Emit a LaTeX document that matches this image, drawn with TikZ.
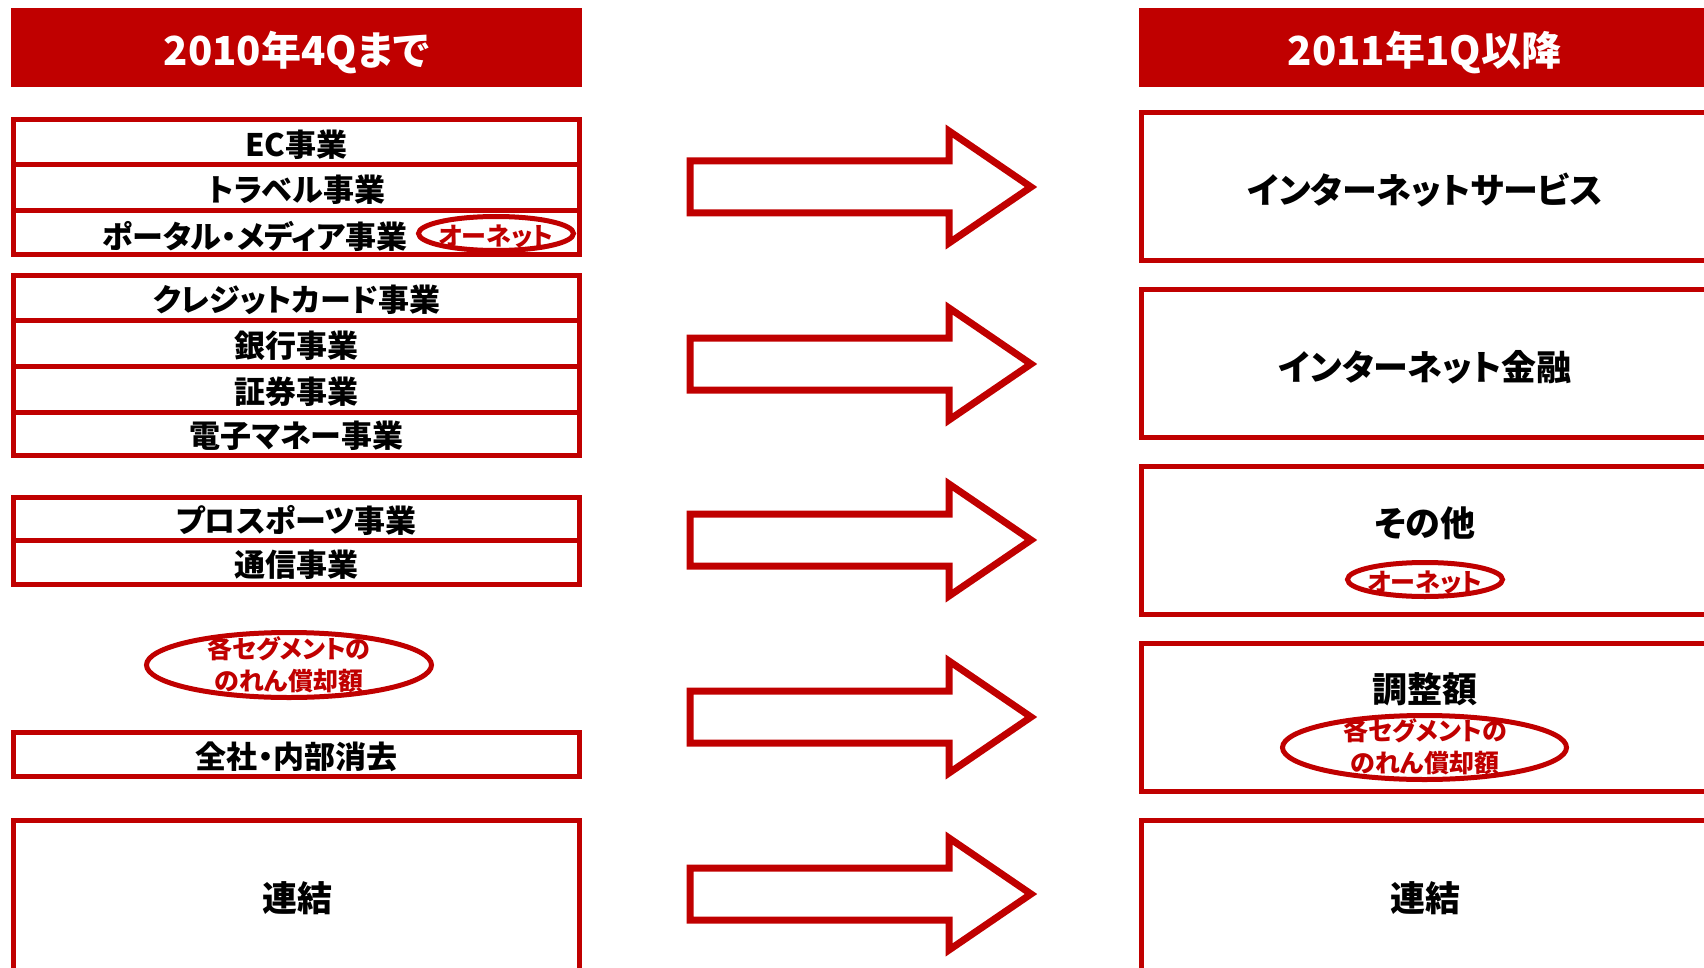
\documentclass[tikz,border=0pt]{standalone}
\usepackage{fontspec}
\setmainfont{Noto Sans CJK JP}[RawFeature=+palt]
\usetikzlibrary{shapes.geometric}
\definecolor{dred}{RGB}{192,0,0}
\tikzset{
  hdr/.style={fill=dred, draw=none, minimum width=571pt, minimum height=79pt, inner sep=0pt, text=white, text height=37pt, text depth=1.2pt, font=\fontsize{40}{48}\selectfont\bfseries},
  rowbox/.style={draw=dred, line width=5pt, fill=white, minimum width=566pt, inner sep=0pt, text height=30pt, text depth=2pt, font=\fontsize{31}{36}\selectfont\bfseries},
  rbox/.style={draw=dred, line width=5pt, minimum width=566pt, minimum height=148pt, inner sep=0pt},
  btxt/.style={inner sep=0pt, font=\fontsize{35}{42}\selectfont\bfseries},
  ltxt/.style={inner sep=0pt, text height=30pt, text depth=2pt, font=\fontsize{31}{36}\selectfont\bfseries},
  oval/.style={ellipse, draw=dred, line width=5pt, inner sep=0pt},
  redtxt/.style={text=dred, font=\fontsize{25}{32}\selectfont\bfseries, align=center, inner sep=0pt},
  fatarrow/.pic={\draw[dred, line width=7pt, line join=miter] (-341,-26) -- (-82,-26) -- (-82,-56) -- (0,0) -- (-82,56) -- (-82,26) -- (-341,26) -- cycle;}
}
\begin{document}
\begin{tikzpicture}[x=1pt,y=-1pt]
\useasboundingbox (0,0) rectangle (1704,968);
\clip (0,0) rectangle (1704,968);
% headers
\node[hdr] (hl) at (296.5,47.5) {2010年4Qまで};
\node[hdr] (hr) at (1424.5,47.5) {2011年1Q以降};
% left group 1
\node[rowbox, minimum height=45pt] (ec) at (296.5,142.5) {EC事業};
\node[rowbox, minimum height=46pt] (tr) at (296.5,188) {トラベル事業};
\node[rowbox, minimum height=44pt] (pt) at (296.5,233) {};
\node[ltxt] (ptt) at (255,234) {ポータル・メディア事業};
\node[oval, minimum width=155pt, minimum height=34pt] (o1) at (496,233.5) {};
\node[redtxt, yshift=-3pt] (o1t) at (o1.center) {オーネット};
% left group 2
\node[rowbox, minimum height=45pt] (cc) at (296.5,297.5) {クレジットカード事業};
\node[rowbox, minimum height=46pt] (bk) at (296.5,343) {銀行事業};
\node[rowbox, minimum height=46pt] (sc) at (296.5,389) {証券事業};
\node[rowbox, minimum height=43pt] (em) at (296.5,433.5) {電子マネー事業};
% left group 3
\node[rowbox, minimum height=43pt] (ps) at (296.5,518.5) {プロスポーツ事業};
\node[rowbox, minimum height=44pt] (tc) at (296.5,562) {通信事業};
% goodwill ellipse left
\node[oval, minimum width=285pt, minimum height=65pt] (o2) at (289,665) {};
\node[redtxt] (o2t) at (289,664.5) {各セグメントの\\のれん償却額};
% corporate
\node[rowbox, minimum height=44pt] (zs) at (296.5,754.5) {全社・内部消去};
% consolidated left
\node[rbox, minimum height=180pt] (rl) at (296.5,910.5) {};
\node[btxt] (rlt) at (297,898) {連結};
% right boxes
\node[rbox] (r1) at (1424.5,186.5) {};
\node[btxt] (r1t) at (1425,190) {インターネットサービス};
\node[rbox] (r2) at (1424.5,363.5) {};
\node[btxt] (r2t) at (1425,367) {インターネット金融};
\node[rbox] (r3) at (1424.5,540.5) {};
\node[btxt] (r3t) at (1425,523) {その他};
\node[oval, minimum width=155pt, minimum height=34pt] (o3) at (1425,579.5) {};
\node[redtxt, yshift=-3pt] (o3t) at (o3.center) {オーネット};
\node[rbox] (r4) at (1424.5,717.5) {};
\node[btxt] (r4t) at (1425,689) {調整額};
\node[oval, minimum width=284pt, minimum height=64pt] (o4) at (1424.5,747.5) {};
\node[redtxt] (o4t) at (1425,746.5) {各セグメントの\\のれん償却額};
\node[rbox, minimum height=180pt] (r5) at (1424.5,910.5) {};
\node[btxt] (r5t) at (1425,898) {連結};
% arrows
\pic at (1031,187) {fatarrow};
\pic at (1031,364) {fatarrow};
\pic at (1031,540) {fatarrow};
\pic at (1031,717) {fatarrow};
\pic at (1031,894) {fatarrow};
\end{tikzpicture}
\end{document}
